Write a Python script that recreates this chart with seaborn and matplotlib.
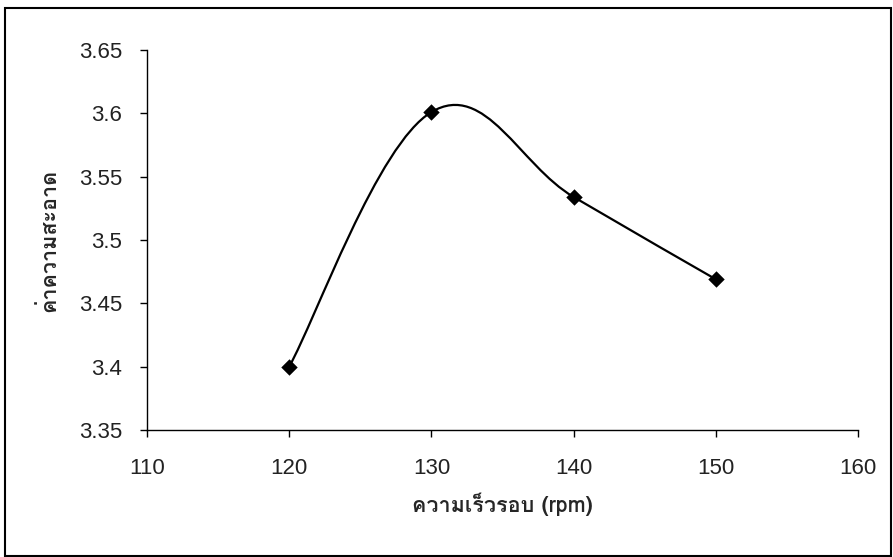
import numpy as np
import pandas as pd
import matplotlib
matplotlib.use("Agg")
import matplotlib.pyplot as plt
from matplotlib.path import Path
from matplotlib.patches import PathPatch, Rectangle
from matplotlib import font_manager as fm
import seaborn as sns

# ---- data ----
speed_rpm = [120, 130, 140, 150]
cleanliness = [3.40, 3.601, 3.534, 3.469]
x_ticks = [110, 120, 130, 140, 150, 160]
y_ticks = [3.35, 3.40, 3.45, 3.50, 3.55, 3.60, 3.65]
y_tick_labels = ["3.35", "3.4", "3.45", "3.5", "3.55", "3.6", "3.65"]
x_label = "ความเร็วรอบ (rpm)"
y_label = "ค่าความสะอาด"

# ---- find a font with Thai glyphs ----
found = []
try:
    from fontTools.ttLib import TTFont
    for f in sorted(fm.findSystemFonts()):
        try:
            tt = TTFont(f, fontNumber=0, lazy=True)
            cmap = tt.getBestCmap()
            if cmap and 0x0E04 in cmap:
                found.append(fm.FontProperties(fname=f).get_name())
        except Exception:
            pass
except Exception:
    pass
thai_family = "Loma" if "Loma" in found else (found[0] if found else None)

sns.set_style("ticks")
plt.rcParams["font.family"] = ["Liberation Sans", "DejaVu Sans"]
label_family = ([thai_family] if thai_family else []) + ["Liberation Sans", "DejaVu Sans"]

df = pd.DataFrame({"rpm": speed_rpm, "clean": cleanliness})

fig = plt.figure(figsize=(8.93, 5.57), dpi=100)
ax = fig.add_axes([0.1646, 0.228, 0.7962, 0.6822])

# smoothed curve (Excel-like cardinal spline through the points)
pts = np.column_stack([df["rpm"].values, df["clean"].values]).astype(float)
k = 0.19
verts = [pts[0]]
codes = [Path.MOVETO]
n = len(pts)
for i in range(n - 1):
    p0 = pts[i - 1] if i > 0 else pts[i]
    p1 = pts[i]
    p2 = pts[i + 1]
    p3 = pts[i + 2] if i + 2 < n else pts[i + 1]
    c1 = p1 + (p2 - p0) * k
    c2 = p2 - (p3 - p1) * k
    verts += [c1, c2, p2]
    codes += [Path.CURVE4] * 3
ax.add_patch(PathPatch(Path(verts, codes), facecolor="none", edgecolor="black", lw=1.6, zorder=2))

sns.scatterplot(data=df, x="rpm", y="clean", marker="D", s=70, color="black",
                edgecolor="black", linewidth=0, ax=ax, zorder=3, legend=False)

ax.set_xlim(110, 160)
ax.set_ylim(3.35, 3.65)
ax.set_xticks(x_ticks)
ax.set_xticklabels([str(v) for v in x_ticks])
ax.set_yticks(y_ticks)
ax.set_yticklabels(y_tick_labels)
for s in ["top", "right"]:
    ax.spines[s].set_visible(False)
for s in ["left", "bottom"]:
    ax.spines[s].set_color("black")
    ax.spines[s].set_linewidth(1.0)
ax.tick_params(axis="x", direction="out", length=5, width=1, pad=15, labelsize=16, colors="black")
ax.tick_params(axis="y", direction="out", length=5, width=1, pad=13, labelsize=16, colors="black")
for t in ax.get_xticklabels() + ax.get_yticklabels():
    t.set_color("#222222")

ax.set_xlabel(x_label, fontsize=15.5, fontweight="bold", family=label_family, labelpad=10)
ax.set_ylabel(y_label, fontsize=15.5, fontweight="bold", family=label_family, labelpad=14)

fig.patches.append(Rectangle((5 / 893, 1 / 557), 886 / 893, 548 / 557, transform=fig.transFigure,
                             fill=False, edgecolor="black", lw=1.5))

fig.savefig("out.png", dpi=100)
